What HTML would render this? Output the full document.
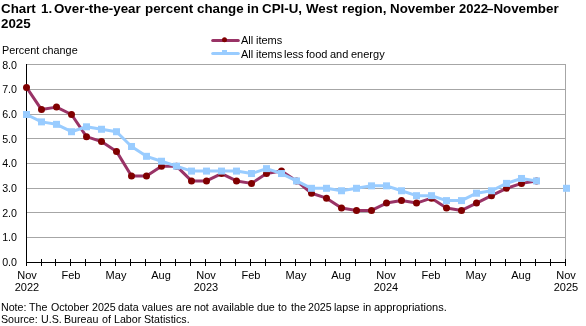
<!DOCTYPE html>
<html><head><meta charset="utf-8"><style>
html,body{margin:0;padding:0;background:#fff;}
body{width:586px;height:326px;position:relative;overflow:hidden;font-family:"Liberation Sans",sans-serif;color:#000;}
.w{position:absolute;white-space:nowrap;line-height:15px;will-change:transform;}
.yl{will-change:transform;position:absolute;left:0;width:17px;text-align:right;font-size:10.67px;line-height:12px;}
.xl{will-change:transform;position:absolute;top:269px;width:60px;text-align:center;font-size:11px;line-height:12px;}
.xl b{font-weight:normal;}
svg{position:absolute;left:0;top:0;}
</style></head><body>
<svg width="586" height="326" viewBox="0 0 586 326"><line x1="26" y1="237.5" x2="566" y2="237.5" stroke="#A6A6A6" stroke-width="1"/><line x1="26" y1="212.5" x2="566" y2="212.5" stroke="#A6A6A6" stroke-width="1"/><line x1="26" y1="188.5" x2="566" y2="188.5" stroke="#A6A6A6" stroke-width="1"/><line x1="26" y1="163.5" x2="566" y2="163.5" stroke="#A6A6A6" stroke-width="1"/><line x1="26" y1="138.5" x2="566" y2="138.5" stroke="#A6A6A6" stroke-width="1"/><line x1="26" y1="114.5" x2="566" y2="114.5" stroke="#A6A6A6" stroke-width="1"/><line x1="26" y1="89.5" x2="566" y2="89.5" stroke="#A6A6A6" stroke-width="1"/><line x1="26" y1="64.5" x2="566" y2="64.5" stroke="#A6A6A6" stroke-width="1"/><line x1="565.5" y1="64" x2="565.5" y2="262" stroke="#A6A6A6" stroke-width="1"/><line x1="26.5" y1="64" x2="26.5" y2="266" stroke="#000" stroke-width="1"/><line x1="26" y1="262.5" x2="566" y2="262.5" stroke="#000" stroke-width="1"/><line x1="26.5" y1="259" x2="26.5" y2="266" stroke="#000" stroke-width="1"/><line x1="41.5" y1="259" x2="41.5" y2="266" stroke="#000" stroke-width="1"/><line x1="55.5" y1="259" x2="55.5" y2="266" stroke="#000" stroke-width="1"/><line x1="70.5" y1="259" x2="70.5" y2="266" stroke="#000" stroke-width="1"/><line x1="85.5" y1="259" x2="85.5" y2="266" stroke="#000" stroke-width="1"/><line x1="100.5" y1="259" x2="100.5" y2="266" stroke="#000" stroke-width="1"/><line x1="115.5" y1="259" x2="115.5" y2="266" stroke="#000" stroke-width="1"/><line x1="130.5" y1="259" x2="130.5" y2="266" stroke="#000" stroke-width="1"/><line x1="145.5" y1="259" x2="145.5" y2="266" stroke="#000" stroke-width="1"/><line x1="160.5" y1="259" x2="160.5" y2="266" stroke="#000" stroke-width="1"/><line x1="175.5" y1="259" x2="175.5" y2="266" stroke="#000" stroke-width="1"/><line x1="190.5" y1="259" x2="190.5" y2="266" stroke="#000" stroke-width="1"/><line x1="205.5" y1="259" x2="205.5" y2="266" stroke="#000" stroke-width="1"/><line x1="220.5" y1="259" x2="220.5" y2="266" stroke="#000" stroke-width="1"/><line x1="235.5" y1="259" x2="235.5" y2="266" stroke="#000" stroke-width="1"/><line x1="250.5" y1="259" x2="250.5" y2="266" stroke="#000" stroke-width="1"/><line x1="265.5" y1="259" x2="265.5" y2="266" stroke="#000" stroke-width="1"/><line x1="280.5" y1="259" x2="280.5" y2="266" stroke="#000" stroke-width="1"/><line x1="295.5" y1="259" x2="295.5" y2="266" stroke="#000" stroke-width="1"/><line x1="310.5" y1="259" x2="310.5" y2="266" stroke="#000" stroke-width="1"/><line x1="325.5" y1="259" x2="325.5" y2="266" stroke="#000" stroke-width="1"/><line x1="340.5" y1="259" x2="340.5" y2="266" stroke="#000" stroke-width="1"/><line x1="355.5" y1="259" x2="355.5" y2="266" stroke="#000" stroke-width="1"/><line x1="370.5" y1="259" x2="370.5" y2="266" stroke="#000" stroke-width="1"/><line x1="385.5" y1="259" x2="385.5" y2="266" stroke="#000" stroke-width="1"/><line x1="400.5" y1="259" x2="400.5" y2="266" stroke="#000" stroke-width="1"/><line x1="415.5" y1="259" x2="415.5" y2="266" stroke="#000" stroke-width="1"/><line x1="430.5" y1="259" x2="430.5" y2="266" stroke="#000" stroke-width="1"/><line x1="445.5" y1="259" x2="445.5" y2="266" stroke="#000" stroke-width="1"/><line x1="460.5" y1="259" x2="460.5" y2="266" stroke="#000" stroke-width="1"/><line x1="475.5" y1="259" x2="475.5" y2="266" stroke="#000" stroke-width="1"/><line x1="490.5" y1="259" x2="490.5" y2="266" stroke="#000" stroke-width="1"/><line x1="505.5" y1="259" x2="505.5" y2="266" stroke="#000" stroke-width="1"/><line x1="520.5" y1="259" x2="520.5" y2="266" stroke="#000" stroke-width="1"/><line x1="535.5" y1="259" x2="535.5" y2="266" stroke="#000" stroke-width="1"/><line x1="550.5" y1="259" x2="550.5" y2="266" stroke="#000" stroke-width="1"/><line x1="565.5" y1="259" x2="565.5" y2="266" stroke="#000" stroke-width="1"/><polyline points="26.50,87.44 41.50,109.58 56.50,107.12 71.50,114.50 86.50,136.64 101.50,141.56 116.50,151.40 131.50,176.00 146.50,176.00 161.50,166.16 176.50,166.16 191.50,180.92 206.50,180.92 221.50,173.54 236.50,180.92 251.50,183.38 266.50,173.54 281.50,171.08 296.50,180.92 311.50,193.22 326.50,198.14 341.50,207.98 356.50,210.44 371.50,210.44 386.50,203.06 401.50,200.60 416.50,203.06 431.50,198.14 446.50,207.98 461.50,210.44 476.50,203.06 491.50,195.68 506.50,188.30 521.50,183.38 536.50,180.92" fill="none" stroke="#993366" stroke-width="3" stroke-linejoin="round" stroke-linecap="round"/><circle cx="26.50" cy="87.44" r="3.5" fill="#800000"/><circle cx="41.50" cy="109.58" r="3.5" fill="#800000"/><circle cx="56.50" cy="107.12" r="3.5" fill="#800000"/><circle cx="71.50" cy="114.50" r="3.5" fill="#800000"/><circle cx="86.50" cy="136.64" r="3.5" fill="#800000"/><circle cx="101.50" cy="141.56" r="3.5" fill="#800000"/><circle cx="116.50" cy="151.40" r="3.5" fill="#800000"/><circle cx="131.50" cy="176.00" r="3.5" fill="#800000"/><circle cx="146.50" cy="176.00" r="3.5" fill="#800000"/><circle cx="161.50" cy="166.16" r="3.5" fill="#800000"/><circle cx="176.50" cy="166.16" r="3.5" fill="#800000"/><circle cx="191.50" cy="180.92" r="3.5" fill="#800000"/><circle cx="206.50" cy="180.92" r="3.5" fill="#800000"/><circle cx="221.50" cy="173.54" r="3.5" fill="#800000"/><circle cx="236.50" cy="180.92" r="3.5" fill="#800000"/><circle cx="251.50" cy="183.38" r="3.5" fill="#800000"/><circle cx="266.50" cy="173.54" r="3.5" fill="#800000"/><circle cx="281.50" cy="171.08" r="3.5" fill="#800000"/><circle cx="296.50" cy="180.92" r="3.5" fill="#800000"/><circle cx="311.50" cy="193.22" r="3.5" fill="#800000"/><circle cx="326.50" cy="198.14" r="3.5" fill="#800000"/><circle cx="341.50" cy="207.98" r="3.5" fill="#800000"/><circle cx="356.50" cy="210.44" r="3.5" fill="#800000"/><circle cx="371.50" cy="210.44" r="3.5" fill="#800000"/><circle cx="386.50" cy="203.06" r="3.5" fill="#800000"/><circle cx="401.50" cy="200.60" r="3.5" fill="#800000"/><circle cx="416.50" cy="203.06" r="3.5" fill="#800000"/><circle cx="431.50" cy="198.14" r="3.5" fill="#800000"/><circle cx="446.50" cy="207.98" r="3.5" fill="#800000"/><circle cx="461.50" cy="210.44" r="3.5" fill="#800000"/><circle cx="476.50" cy="203.06" r="3.5" fill="#800000"/><circle cx="491.50" cy="195.68" r="3.5" fill="#800000"/><circle cx="506.50" cy="188.30" r="3.5" fill="#800000"/><circle cx="521.50" cy="183.38" r="3.5" fill="#800000"/><circle cx="536.50" cy="180.92" r="3.5" fill="#800000"/><polyline points="26.50,114.50 41.50,121.88 56.50,124.34 71.50,131.72 86.50,126.80 101.50,129.26 116.50,131.72 131.50,146.48 146.50,156.32 161.50,161.24 176.50,166.16 191.50,171.08 206.50,171.08 221.50,171.08 236.50,171.08 251.50,173.54 266.50,168.62 281.50,173.54 296.50,180.92 311.50,188.30 326.50,188.30 341.50,190.76 356.50,188.30 371.50,185.84 386.50,185.84 401.50,190.76 416.50,195.68 431.50,195.68 446.50,200.60 461.50,200.60 476.50,193.22 491.50,190.76 506.50,183.38 521.50,178.46 536.50,180.92" fill="none" stroke="#99CCFF" stroke-width="3" stroke-linejoin="round" stroke-linecap="round"/><rect x="23.00" y="111.00" width="7" height="7" fill="#99CCFF"/><rect x="38.00" y="118.38" width="7" height="7" fill="#99CCFF"/><rect x="53.00" y="120.84" width="7" height="7" fill="#99CCFF"/><rect x="68.00" y="128.22" width="7" height="7" fill="#99CCFF"/><rect x="83.00" y="123.30" width="7" height="7" fill="#99CCFF"/><rect x="98.00" y="125.76" width="7" height="7" fill="#99CCFF"/><rect x="113.00" y="128.22" width="7" height="7" fill="#99CCFF"/><rect x="128.00" y="142.98" width="7" height="7" fill="#99CCFF"/><rect x="143.00" y="152.82" width="7" height="7" fill="#99CCFF"/><rect x="158.00" y="157.74" width="7" height="7" fill="#99CCFF"/><rect x="173.00" y="162.66" width="7" height="7" fill="#99CCFF"/><rect x="188.00" y="167.58" width="7" height="7" fill="#99CCFF"/><rect x="203.00" y="167.58" width="7" height="7" fill="#99CCFF"/><rect x="218.00" y="167.58" width="7" height="7" fill="#99CCFF"/><rect x="233.00" y="167.58" width="7" height="7" fill="#99CCFF"/><rect x="248.00" y="170.04" width="7" height="7" fill="#99CCFF"/><rect x="263.00" y="165.12" width="7" height="7" fill="#99CCFF"/><rect x="278.00" y="170.04" width="7" height="7" fill="#99CCFF"/><rect x="293.00" y="177.42" width="7" height="7" fill="#99CCFF"/><rect x="308.00" y="184.80" width="7" height="7" fill="#99CCFF"/><rect x="323.00" y="184.80" width="7" height="7" fill="#99CCFF"/><rect x="338.00" y="187.26" width="7" height="7" fill="#99CCFF"/><rect x="353.00" y="184.80" width="7" height="7" fill="#99CCFF"/><rect x="368.00" y="182.34" width="7" height="7" fill="#99CCFF"/><rect x="383.00" y="182.34" width="7" height="7" fill="#99CCFF"/><rect x="398.00" y="187.26" width="7" height="7" fill="#99CCFF"/><rect x="413.00" y="192.18" width="7" height="7" fill="#99CCFF"/><rect x="428.00" y="192.18" width="7" height="7" fill="#99CCFF"/><rect x="443.00" y="197.10" width="7" height="7" fill="#99CCFF"/><rect x="458.00" y="197.10" width="7" height="7" fill="#99CCFF"/><rect x="473.00" y="189.72" width="7" height="7" fill="#99CCFF"/><rect x="488.00" y="187.26" width="7" height="7" fill="#99CCFF"/><rect x="503.00" y="179.88" width="7" height="7" fill="#99CCFF"/><rect x="518.00" y="174.96" width="7" height="7" fill="#99CCFF"/><rect x="533.00" y="177.42" width="7" height="7" fill="#99CCFF"/><rect x="563.00" y="184.80" width="7" height="7" fill="#99CCFF"/><line x1="212.7" y1="40.5" x2="238.3" y2="40.5" stroke="#993366" stroke-width="3" stroke-linecap="round"/><circle cx="224.5" cy="39.8" r="2.5" fill="#800000"/><rect x="222" y="50" width="5" height="5" fill="#99CCFF"/><line x1="212.7" y1="53.5" x2="238.3" y2="53.5" stroke="#99CCFF" stroke-width="3" stroke-linecap="round"/></svg>
<span class="w" style="left:1.40px;top:1px;font-size:13.33px;font-weight:700">Chart</span><span class="w" style="left:41.20px;top:1px;font-size:13.33px;font-weight:700">1.</span><span class="w" style="left:54.10px;top:1px;font-size:13.33px;font-weight:700">Over-the-year</span><span class="w" style="left:145.30px;top:1px;font-size:13.33px;font-weight:700">percent</span><span class="w" style="left:197.40px;top:1px;font-size:13.33px;font-weight:700">change</span><span class="w" style="left:247.40px;top:1px;font-size:13.33px;font-weight:700">in</span><span class="w" style="left:262.20px;top:1px;font-size:13.33px;font-weight:700">CPI-U,</span><span class="w" style="left:305.70px;top:1px;font-size:13.33px;font-weight:700">West</span><span class="w" style="left:341.80px;top:1px;font-size:13.33px;font-weight:700">region,</span><span class="w" style="left:389.80px;top:1px;font-size:13.33px;font-weight:700">November</span><span class="w" style="left:459.10px;top:1px;font-size:13px;font-weight:700">2022</span><span class="w" style="left:486.40px;top:1px;font-size:13.33px;font-weight:700">–November</span><span class="w" style="left:1.20px;top:16px;font-size:13.33px;font-weight:700">2025</span><span class="w" style="left:2.30px;top:43px;font-size:10.8px;font-weight:400">Percent change</span><span class="w" style="left:241.00px;top:33px;font-size:11px;font-weight:400">All</span><span class="w" style="left:256.10px;top:33px;font-size:11px;font-weight:400">items</span><span class="w" style="left:241.00px;top:47px;font-size:11px;font-weight:400">All</span><span class="w" style="left:256.10px;top:47px;font-size:11px;font-weight:400">items</span><span class="w" style="left:284.00px;top:47px;font-size:11px;font-weight:400">less</span><span class="w" style="left:306.20px;top:47px;font-size:11px;font-weight:400">food</span><span class="w" style="left:330.40px;top:47px;font-size:11px;font-weight:400">and</span><span class="w" style="left:350.90px;top:47px;font-size:11px;font-weight:400">energy</span><span class="w" style="left:1.00px;top:300px;font-size:10.67px;font-weight:400">Note:</span><span class="w" style="left:28.70px;top:300px;font-size:10.67px;font-weight:400">The</span><span class="w" style="left:50.50px;top:300px;font-size:10.67px;font-weight:400">October</span><span class="w" style="left:92.40px;top:300px;font-size:10.67px;font-weight:400">2025</span><span class="w" style="left:117.90px;top:300px;font-size:10.67px;font-weight:400">data</span><span class="w" style="left:142.40px;top:300px;font-size:10.67px;font-weight:400">values</span><span class="w" style="left:176.00px;top:300px;font-size:10.67px;font-weight:400">are</span><span class="w" style="left:194.30px;top:300px;font-size:10.67px;font-weight:400">not</span><span class="w" style="left:212.00px;top:300px;font-size:10.67px;font-weight:400">available</span><span class="w" style="left:257.30px;top:300px;font-size:10.67px;font-weight:400">due</span><span class="w" style="left:277.90px;top:300px;font-size:10.67px;font-weight:400">to</span><span class="w" style="left:290.70px;top:300px;font-size:10.67px;font-weight:400">the</span><span class="w" style="left:308.00px;top:300px;font-size:10.67px;font-weight:400">2025</span><span class="w" style="left:333.60px;top:300px;font-size:10.67px;font-weight:400">lapse</span><span class="w" style="left:363.20px;top:300px;font-size:10.67px;font-weight:400">in</span><span class="w" style="left:374.20px;top:300px;font-size:11px;font-weight:400">appropriations.</span><span class="w" style="left:1.20px;top:312px;font-size:10.67px;font-weight:400">Source:</span><span class="w" style="left:40.70px;top:312px;font-size:10.67px;font-weight:400">U.S.</span><span class="w" style="left:64.20px;top:312px;font-size:10.67px;font-weight:400">Bureau</span><span class="w" style="left:102.20px;top:312px;font-size:10.67px;font-weight:400">of</span><span class="w" style="left:113.90px;top:312px;font-size:10.67px;font-weight:400">Labor</span><span class="w" style="left:144.00px;top:312px;font-size:10.67px;font-weight:400">Statistics.</span>
<div class="yl" style="top:256px">0.0</div><div class="yl" style="top:231px">1.0</div><div class="yl" style="top:207px">2.0</div><div class="yl" style="top:182px">3.0</div><div class="yl" style="top:157px">4.0</div><div class="yl" style="top:133px">5.0</div><div class="yl" style="top:108px">6.0</div><div class="yl" style="top:83px">7.0</div><div class="yl" style="top:59px">8.0</div>
<div class="xl" style="left:-3.5px"><b>Nov</b><br>2022</div><div class="xl" style="left:41.4px"><b>Feb</b></div><div class="xl" style="left:86.3px"><b>May</b></div><div class="xl" style="left:131.2px"><b>Aug</b></div><div class="xl" style="left:176.2px"><b>Nov</b><br>2023</div><div class="xl" style="left:221.1px"><b>Feb</b></div><div class="xl" style="left:266.0px"><b>May</b></div><div class="xl" style="left:310.9px"><b>Aug</b></div><div class="xl" style="left:355.8px"><b>Nov</b><br>2024</div><div class="xl" style="left:400.8px"><b>Feb</b></div><div class="xl" style="left:445.7px"><b>May</b></div><div class="xl" style="left:490.6px"><b>Aug</b></div><div class="xl" style="left:535.5px"><b>Nov</b><br>2025</div>
</body></html>
